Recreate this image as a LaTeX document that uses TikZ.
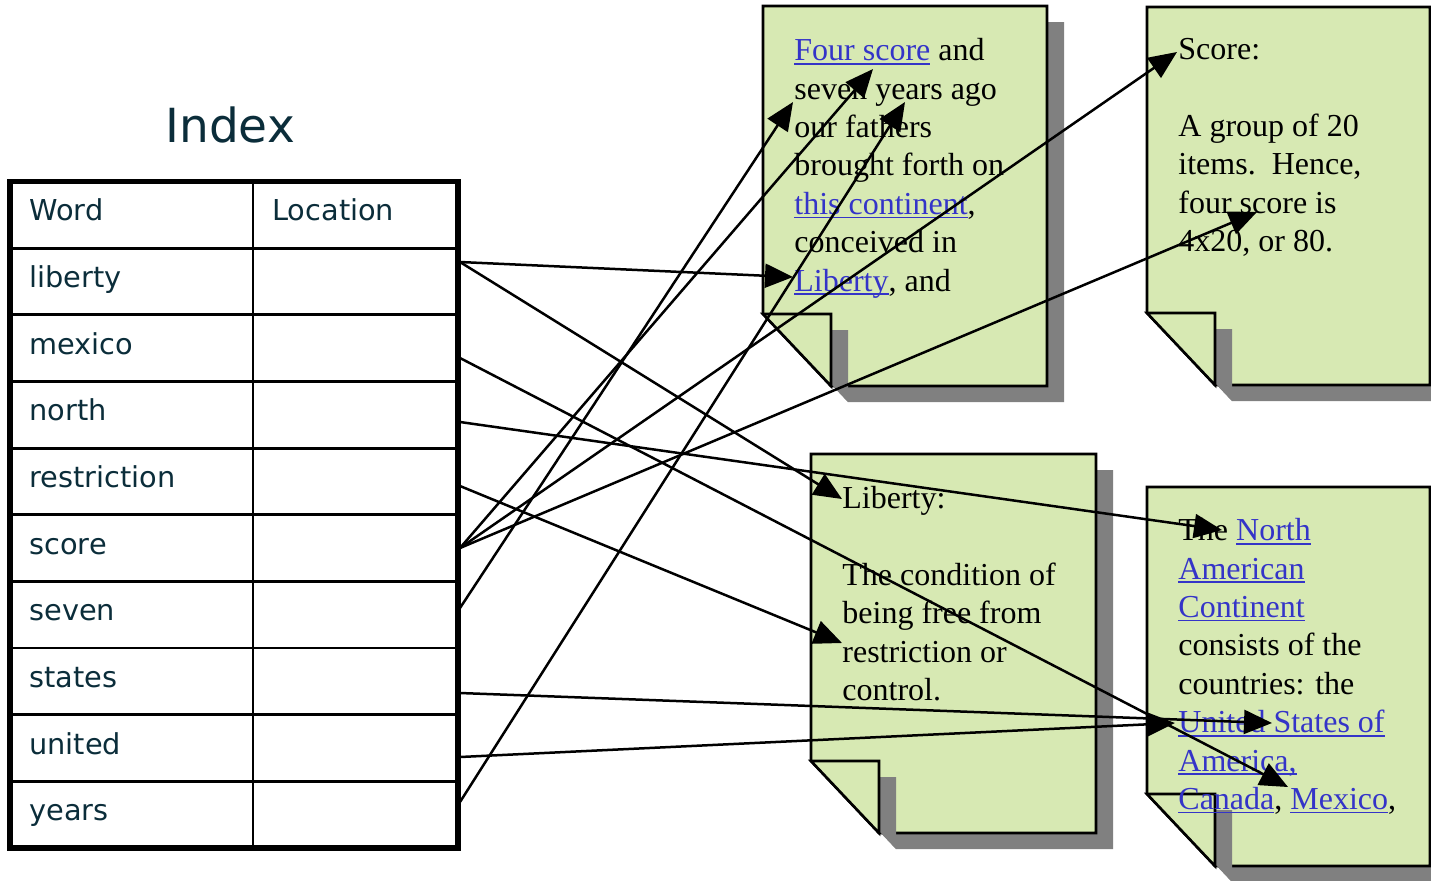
\documentclass[tikz,border=0pt]{standalone}
\usepackage{fontspec}
\usepackage{tikz}
\usetikzlibrary{arrows.meta, positioning}
\newfontfamily\docfont{Liberation Serif}
\newfontfamily\tabfont{DejaVu Sans}
\definecolor{pagegreen}{HTML}{D7E9B3}
\definecolor{linkblue}{HTML}{3434C8}
\definecolor{tabtext}{HTML}{0B2D3A}
\newcommand\lnk[1]{\textcolor{linkblue}{\setbox0=\hbox{#1}\rlap{\rule[-2pt]{\wd0}{0.8pt}}\box0}}
\tikzset{
  cell/.style={anchor=base west, inner sep=0pt, text=tabtext, font=\tabfont\fontsize{14.4pt}{17pt}\selectfont},
  doctext/.style={anchor=north west, inner sep=0pt, align=left, font=\docfont\fontsize{16pt}{19.2pt}\selectfont},
  idxarrow/.style={-{Triangle[length=14pt,width=12pt]}, line width=1.25pt},
}
\begin{document}
\begin{tikzpicture}[x=0.5pt, y=-0.5pt]
\useasboundingbox (0,0) rectangle (1431,880);
% index table
\node[anchor=base west, inner sep=0pt, text=tabtext, font=\tabfont\fontsize{23.5pt}{28pt}\selectfont] (title) at (165,142) {Index};
\foreach \i in {1,...,9} \draw[line width=1.4pt] (10,{181.5+66.65*\i}) -- (458,{181.5+66.65*\i});
\draw[line width=1.4pt] (253,181.5) -- (253,848);
\draw[line width=2.6pt] (10,181.5) rectangle (458,848);
\node[cell] (word) at (29,220) {Word};
\node[cell] (location) at (272,220) {Location};
\foreach \w [count=\i] in {liberty,mexico,north,restriction,score,seven,states,united,years}
  \node[cell] (w-\w) at (29,{181.5+66.65*\i+39.5}) {\w};
% pages with folded corner
\foreach \l/\t/\r/\b in {763/6/1047/386, 1147/7/1430/385, 811/454/1096/833, 1147/487/1430/866} {
  \fill[gray] ({\l+17},{\t+16}) -- ({\r+17},{\t+16}) -- ({\r+17},{\b+16}) -- ({\l+85},{\b+16}) -- ({\l+17},{\b-56}) -- cycle;
  \filldraw[fill=pagegreen, line width=1.3pt] (\l,\t) -- (\r,\t) -- (\r,\b) -- ({\l+68},\b) -- (\l,{\b-72}) -- cycle;
  \fill[gray] ({\l+17},{\b-56}) -- ({\l+85},{\b-56}) -- ({\l+85},{\b+16}) -- cycle;
  \filldraw[fill=pagegreen, line width=1.3pt] (\l,{\b-72}) -- ({\l+68},{\b-72}) -- ({\l+68},\b) -- cycle;
}
\node[doctext] (gettysburg) at (794,38) {\lnk{Four score} and\\seven years ago\\our fathers\\brought forth on\\\lnk{this continent},\\conceived in\\\lnk{Liberty}, and};
\node[doctext] (scoredef) at (1178,38) {Score:\\[19.2pt]A group of 20\\items.\ \ Hence,\\four score is\\4x20, or 80.};
\node[doctext] (libertydef) at (842,486) {Liberty:\\[19.2pt]The condition of\\being free from\\restriction or\\control.};
\node[doctext] (northdef) at (1178,518) {The \lnk{North}\\\lnk{American}\\\lnk{Continent}\\consists of the\\countries: the\\\lnk{United States of}\\\lnk{America,}\\\lnk{Canada}, \lnk{Mexico},};
% index links
\foreach \w/\y in {liberty/262, mexico/358, north/422, restriction/486, score/548, seven/608, states/693, united/757, years/802}
  \coordinate (\w-out) at (460,\y);
\coordinate (lib-a) at (793,277);
\coordinate (lib-b) at (842,499);
\coordinate (mex) at (1288,787);
\coordinate (nor) at (1222,530);
\coordinate (res) at (842,643);
\coordinate (sco-a) at (873,69);
\coordinate (sco-b) at (1177,52);
\coordinate (sco-c) at (1257,212);
\coordinate (sev) at (793,102);
\coordinate (sta) at (1272,723);
\coordinate (uni) at (1175,723);
\coordinate (yea) at (905,102);
\foreach \a/\b in {liberty/lib-a, liberty/lib-b, mexico/mex, north/nor, restriction/res, score/sco-a, score/sco-b, score/sco-c, seven/sev, states/sta, united/uni, years/yea}
  \draw[idxarrow] (\a-out) -- (\b);
\end{tikzpicture}
\end{document}
